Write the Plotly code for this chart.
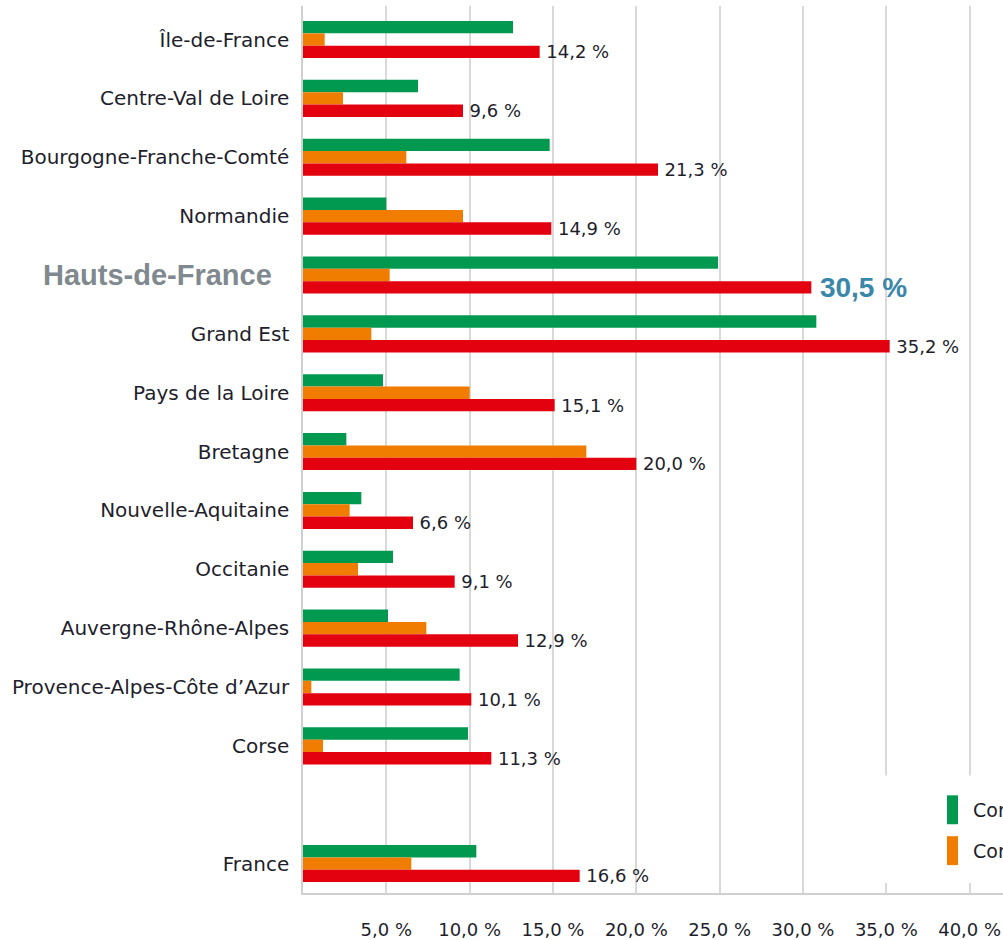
import plotly.graph_objects as go

# regions, top to bottom (" " = empty spacer row before France)
regions = ["Île-de-France", "Centre-Val de Loire", "Bourgogne-Franche-Comté", "Normandie",
           "Hauts-de-France", "Grand Est", "Pays de la Loire", "Bretagne",
           "Nouvelle-Aquitaine", "Occitanie", "Auvergne-Rhône-Alpes",
           "Provence-Alpes-Côte d’Azur", "Corse", " ", "France"]

green_vals = [12.6, 6.9, 14.8, 5.0, 24.9, 30.8, 4.8, 2.6, 3.5, 5.4, 5.1, 9.4, 9.9, None, 10.4]
orange_vals = [1.3, 2.4, 6.2, 9.6, 5.2, 4.1, 10.0, 17.0, 2.8, 3.3, 7.4, 0.5, 1.2, None, 6.5]
red_vals = [14.2, 9.6, 21.3, 14.9, 30.5, 35.2, 15.1, 20.0, 6.6, 9.1, 12.9, 10.1, 11.3, None, 16.6]

x_ticks = [5, 10, 15, 20, 25, 30, 35, 40]
x_ticktext = ["5,0 %", "10,0 %", "15,0 %", "20,0 %", "25,0 %", "30,0 %", "35,0 %", "40,0 %"]

legend_names = ["Contribution des entreprises", "Contribution des ménages"]

highlight = "Hauts-de-France"
GREEN, ORANGE, RED = "#00994f", "#f07d00", "#e3000f"
DARK = "#1e1e2c"
BASE_FONT = "DejaVu Sans"

def fmt(v):
    return "" if v is None else f"{v:.1f}".replace(".", ",") + " %"

red_text, red_col, red_size, red_fam = [], [], [], []
for r, v in zip(regions, red_vals):
    if r == highlight:
        red_text.append("\u2009<b>" + fmt(v) + "</b>")
        red_col.append("#3a87aa")
        red_size.append(28)
        red_fam.append("Liberation Sans")
    else:
        red_text.append("\u2009" + fmt(v) if v is not None else "")
        red_col.append(DARK)
        red_size.append(18)
        red_fam.append(BASE_FONT)

fig = go.Figure()
fig.add_trace(go.Bar(y=regions, x=green_vals, orientation="h", name=legend_names[0],
                     marker=dict(color=GREEN, line_width=0), showlegend=False))
fig.add_trace(go.Bar(y=regions, x=orange_vals, orientation="h", name=legend_names[1],
                     marker=dict(color=ORANGE, line_width=0), showlegend=False))
fig.add_trace(go.Bar(y=regions, x=red_vals, orientation="h", name="Total",
                     marker=dict(color=RED, line_width=0), showlegend=False,
                     text=red_text, textposition="outside", cliponaxis=False,
                     constraintext="none",
                     textfont=dict(color=red_col, size=red_size, family=red_fam)))

ytick_text = ["" if r == highlight else r for r in regions]

fig.update_layout(
    width=1003, height=940,
    margin=dict(l=303, r=0, t=6, b=44),
    barmode="group", bargap=0.37, bargroupgap=0,
    plot_bgcolor="white", paper_bgcolor="white",
    font=dict(family=BASE_FONT, size=18, color=DARK),
    xaxis=dict(range=[0, 42], tickvals=x_ticks, ticktext=x_ticktext,
               showgrid=True, gridcolor="#d9d9d9", gridwidth=1.5,
               zeroline=False, showline=True, linecolor="#d0d0d0", linewidth=1.5,
               ticks="outside", ticklen=20, tickcolor="rgba(0,0,0,0)",
               tickfont=dict(size=18, color=DARK)),
    yaxis=dict(categoryorder="array", categoryarray=regions,
               tickvals=regions, ticktext=ytick_text,
               range=[14.5, -0.57],
               showgrid=False, zeroline=False, showline=True, linecolor="#d0d0d0", linewidth=1.5,
               ticks="outside", ticklen=8, tickcolor="rgba(0,0,0,0)",
               tickfont=dict(size=20, color=DARK)),
)

# highlighted region label
fig.add_annotation(x=0, xref="paper", y=highlight, yref="y", text="<b>" + highlight + "</b>",
                   showarrow=False, xanchor="right", xshift=-29,
                   font=dict(family="Liberation Sans", size=29, color="#7f898f"))

# legend block (partly outside the visible area, as in the original)
def px_x(p):
    return (p - 303) / 700
def px_y(p):
    return (896 - p) / 890

fig.add_shape(type="rect", xref="paper", yref="paper", x0=px_x(882), x1=1.02,
              y0=px_y(886), y1=px_y(778), fillcolor="white", line_width=0, layer="above")
for (y0, y1), col, name in [((798, 827), GREEN, legend_names[0]), ((839, 868), ORANGE, legend_names[1])]:
    fig.add_shape(type="rect", xref="paper", yref="paper", x0=px_x(947), x1=px_x(958),
                  y0=px_y(y1), y1=px_y(y0), fillcolor=col, line_width=0, layer="above")
    fig.add_annotation(x=px_x(971), xref="paper", y=px_y((y0 + y1) / 2), yref="paper",
                       text=name, showarrow=False, xanchor="left", yanchor="middle",
                       font=dict(size=19, color=DARK))

fig.write_html("out.html", config={"displayModeBar": False},
               post_script="document.body.style.margin='0';document.body.style.overflow='hidden';")
